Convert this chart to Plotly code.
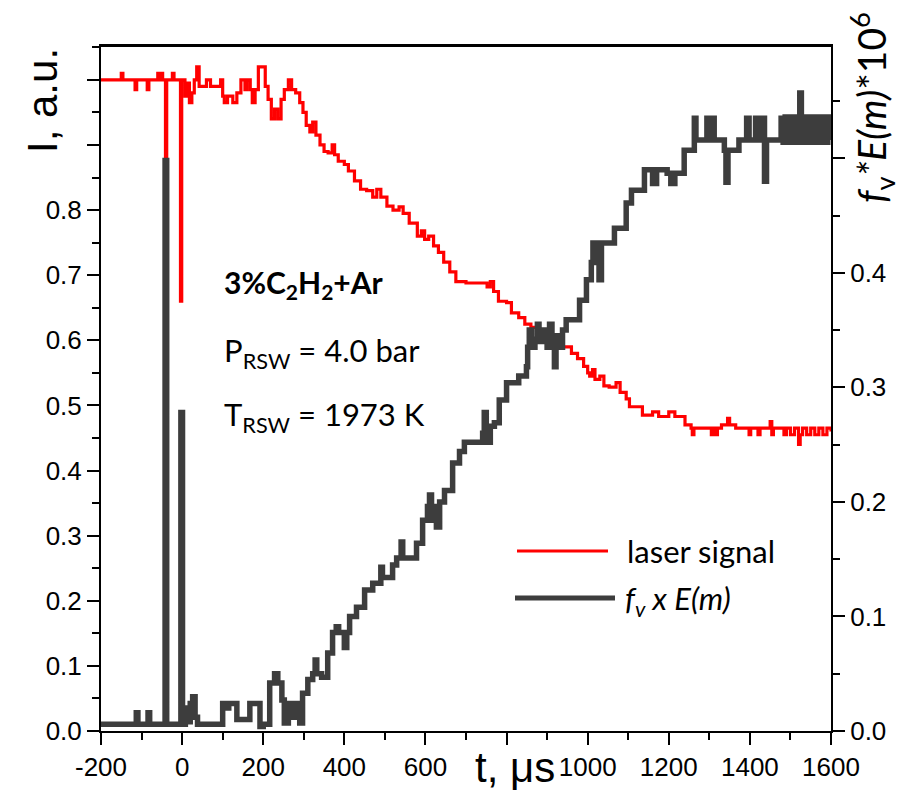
import plotly.graph_objects as go

# ---------------- data ----------------
# laser signal (left axis, I a.u.) -- step data
red_t = [-200, -150, -146, -116, -112, -86, -82, -60, -56, -52, -48, -41, -38, -24, -20, -4, -1,
         7, 13, 18, 24, 30, 36, 42, 60, 70, 95, 100, 104, 112, 125, 135, 145, 155, 160, 168, 173,
         180, 188, 198, 205, 212, 220, 228, 236, 244, 252, 262, 270, 280, 290, 298, 306, 315, 322,
         330, 340, 350, 360, 370, 376, 385, 400, 410, 425, 440, 455, 470, 480, 490, 505, 520, 535,
         545, 560, 580, 590, 598, 608, 620, 632, 645, 660, 675, 700, 720, 752, 760, 768, 780, 800,
         812, 830, 845, 860, 876, 905, 920, 940, 960, 975, 990, 1000, 1005, 1012, 1018, 1030, 1040,
         1053, 1070, 1080, 1095, 1103, 1135, 1160, 1175, 1200, 1215, 1240, 1255, 1258, 1262, 1305,
         1310, 1315, 1320, 1330, 1345, 1350, 1365, 1398, 1402, 1420, 1425, 1450, 1454, 1458, 1484,
         1490, 1500, 1510, 1520, 1524, 1530, 1540, 1550, 1560, 1570, 1580, 1590, 1600]
red_I = [1.00, 1.01, 1.00, 0.985, 1.00, 0.985, 1.00, 1.01, 1.00, 1.01, 1.00, 0.70, 1.00, 1.01, 1.00, 0.66, 1.00,
         0.975, 0.995, 0.965, 0.98, 1.00, 1.02, 0.99, 1.00, 0.99, 1.00, 0.975, 0.965, 0.975, 0.965, 0.98, 1.00, 0.985, 1.00, 0.985, 0.965,
         0.985, 1.02, 1.02, 0.99, 0.97, 0.94, 0.955, 0.94, 0.97, 0.985, 1.00, 0.985, 0.98, 0.965, 0.95, 0.93, 0.92, 0.935,
         0.915, 0.90, 0.89, 0.888, 0.90, 0.885, 0.875, 0.87, 0.86, 0.845, 0.832, 0.83, 0.82, 0.832, 0.82, 0.806, 0.80, 0.805,
         0.795, 0.78, 0.76, 0.768, 0.755, 0.76, 0.745, 0.735, 0.72, 0.705, 0.69, 0.688, 0.688, 0.682, 0.69, 0.675, 0.66, 0.658,
         0.642, 0.635, 0.625, 0.62, 0.61, 0.605, 0.598, 0.59, 0.58, 0.572, 0.56, 0.55, 0.545, 0.555, 0.54, 0.545, 0.53,
         0.528, 0.535, 0.52, 0.51, 0.498, 0.485, 0.49, 0.483, 0.49, 0.483, 0.47, 0.465, 0.455, 0.465, 0.455,
         0.465, 0.455, 0.465, 0.47, 0.48, 0.47, 0.465, 0.455, 0.465, 0.455, 0.465, 0.475, 0.455, 0.465, 0.455,
         0.465, 0.455, 0.465, 0.44, 0.455, 0.465, 0.455, 0.465, 0.455, 0.465, 0.455, 0.465, 0.46]

# f_v x E(m) (right axis, f_v*E(m)*10^6) -- step data
blk_t = [-200, -113, -109, -84, -80, -42, -38, -3, 1, 8, 14, 20, 26, 32, 38, 100, 110, 115, 135, 167,
         192, 200, 216, 228, 236, 246, 252, 262, 270, 280, 290, 297, 310, 322, 328, 332, 344, 359, 371,
         380, 386, 400, 406, 413, 430, 450, 470, 490, 494, 519, 529, 540, 544, 578, 593, 605, 610, 615,
         622, 627, 635, 647, 667, 684, 696, 741, 745, 750, 760, 770, 782, 800, 830, 849, 852, 856, 862,
         870, 876, 880, 890, 900, 906, 912, 918, 922, 930, 938, 947, 980, 997, 1009, 1013, 1018, 1024,
         1028, 1034, 1066, 1095, 1108, 1140, 1160, 1170, 1196, 1205, 1215, 1238, 1263, 1267, 1294, 1300,
         1306, 1312, 1337, 1341, 1346, 1373, 1392, 1398, 1414, 1420, 1433, 1436, 1441, 1477, 1482, 1487,
         1492, 1497, 1502, 1507, 1512, 1517, 1523, 1527, 1532, 1537, 1542, 1547, 1552, 1557, 1562, 1567,
         1572, 1577, 1582, 1587, 1592, 1598]
blk_f = [0.006, 0.016, 0.006, 0.016, 0.006, 0.498, 0.006, 0.278, 0.006, 0.020, 0.008, 0.024, 0.030, 0.012, 0.006, 0.024, 0.020, 0.024, 0.010, 0.024,
         0.004, 0.006, 0.042, 0.050, 0.042, 0.027, 0.007, 0.024, 0.012, 0.024, 0.007, 0.033, 0.045, 0.050, 0.062, 0.050, 0.047, 0.068, 0.086,
         0.091, 0.086, 0.073, 0.086, 0.100, 0.108, 0.123, 0.129, 0.143, 0.134, 0.145, 0.151, 0.165, 0.151, 0.164, 0.184, 0.196, 0.206, 0.184,
         0.196, 0.178, 0.200, 0.210, 0.234, 0.244, 0.252, 0.260, 0.278, 0.252, 0.266, 0.269, 0.289, 0.304, 0.310, 0.318, 0.335, 0.350, 0.335,
         0.342, 0.355, 0.340, 0.350, 0.335, 0.355, 0.340, 0.318, 0.345, 0.335, 0.350, 0.359, 0.376, 0.394, 0.409, 0.426, 0.409, 0.426,
         0.394, 0.426, 0.439, 0.461, 0.472, 0.490, 0.478, 0.490, 0.487, 0.478, 0.487, 0.507, 0.535, 0.516, 0.535, 0.516,
         0.535, 0.516, 0.507, 0.479, 0.507, 0.516, 0.535, 0.516, 0.535, 0.516, 0.535, 0.480, 0.516, 0.535, 0.514, 0.536,
         0.514, 0.536, 0.514, 0.536, 0.514, 0.536, 0.557, 0.514, 0.536, 0.514, 0.536, 0.514, 0.536, 0.514, 0.536, 0.514,
         0.536, 0.514, 0.536, 0.514, 0.536, 0.516]

x_ticks = [-200, 0, 200, 400, 600, 800, 1000, 1200, 1400, 1600]
x_labels = ["-200", "0", "200", "400", "600", "", "1000", "1200", "1400", "1600"]
yl_ticks = [0.0, 0.1, 0.2, 0.3, 0.4, 0.5, 0.6, 0.7, 0.8, 0.9, 1.0]
yl_labels = ["0.0", "0.1", "0.2", "0.3", "0.4", "0.5", "0.6", "0.7", "0.8", "", ""]
yr_ticks = [0.0, 0.1, 0.2, 0.3, 0.4, 0.5]
yr_labels = ["0.0", "0.1", "0.2", "0.3", "0.4", ""]

# ---------------- figure ----------------
# the page body has an 8 px margin, so the figure is drawn 8 px smaller and
# all page-pixel positions are converted to figure coordinates
OFF = 8
W, H = 904 - OFF, 795 - OFF
L, R, T, B = 101 - OFF, 831 - OFF, 46 - OFF, 731 - OFF


def px(x):  # page pixel -> paper fraction
    return (x - OFF - L) / (R - L)


def py(y):
    return (B - (y - OFF)) / (B - T)


fig = go.Figure()
fig.add_trace(go.Scatter(x=red_t, y=red_I, mode="lines", name="laser signal",
                         line=dict(color="#ff0000", width=3.2, shape="hv"),
                         yaxis="y", showlegend=False))
fig.add_trace(go.Scatter(x=blk_t, y=blk_f, mode="lines", name="f_v x E(m)",
                         line=dict(color="#3d3d3d", width=5.5, shape="hv"),
                         yaxis="y2", showlegend=False))

tickfont = dict(family="Liberation Sans, Arial", size=26, color="black")
common = dict(ticks="outside", ticklen=12, tickwidth=2, tickcolor="black",
              showline=True, linewidth=2, linecolor="black", showgrid=False,
              zeroline=False, tickfont=tickfont, tickmode="array", automargin=False)
minor_common = dict(ticklen=7, tickwidth=2, tickcolor="black", ticks="outside", showgrid=False)

fig.update_layout(
    width=W, height=H,
    margin=dict(l=L, r=W - R, t=T, b=H - B, autoexpand=False),
    paper_bgcolor="white", plot_bgcolor="white",
    xaxis=dict(range=[-200, 1600], tickvals=x_ticks, ticktext=x_labels, mirror=True,
               minor=dict(dtick=100, tick0=0, **minor_common), **common),
    yaxis=dict(range=[0, 1.052], tickvals=yl_ticks, ticktext=yl_labels,
               minor=dict(dtick=0.05, tick0=0, **minor_common), **common),
    yaxis2=dict(range=[0, 0.598], tickvals=yr_ticks, ticktext=yr_labels, overlaying="y", side="right",
                minor=dict(dtick=0.05, tick0=0, **minor_common), **common),
)

txt = "Lato, Open Sans, sans-serif"
anns = [
    dict(text="I, a.u.", x=px(43), y=py(100), textangle=-90,
         font=dict(family="Liberation Sans, Arial", size=42, color="black")),
    dict(text="<i>f</i><sub>v</sub><i>*E(m)</i>*10<sup>6</sup>", x=px(872), y=py(108), textangle=-90,
         font=dict(family=txt, size=39, color="black")),
    dict(text="t, \u03bcs", x=px(515), y=py(767),
         font=dict(family="Liberation Sans, Arial", size=42, color="black")),
    dict(text="<b>3%C<sub>2</sub>H<sub>2</sub>+Ar</b>", x=px(222), y=py(284), xanchor="left",
         font=dict(family=txt, size=30, color="black")),
    dict(text="P<sub>RSW</sub> = 4.0 bar", x=px(222), y=py(352), xanchor="left",
         font=dict(family=txt, size=31, color="black")),
    dict(text="T<sub>RSW</sub> = 1973 K", x=px(222), y=py(417), xanchor="left",
         font=dict(family=txt, size=31, color="black")),
    dict(text="laser signal", x=px(625), y=py(551), xanchor="left",
         font=dict(family=txt, size=31, color="black")),
    dict(text="<i>f<sub>v</sub> x E(m)</i>", x=px(623), y=py(600), xanchor="left",
         font=dict(family=txt, size=31, color="black")),
]
for a in anns:
    a.setdefault("xanchor", "center")
    a.setdefault("yanchor", "middle")
    fig.add_annotation(xref="paper", yref="paper", showarrow=False, **a)

fig.add_shape(type="line", xref="paper", yref="paper", x0=0, x1=1, y0=1, y1=1,
              line=dict(color="black", width=2))
fig.add_shape(type="line", xref="paper", yref="paper", x0=px(517), x1=px(608), y0=py(551), y1=py(551),
              line=dict(color="#ff0000", width=3))
fig.add_shape(type="line", xref="paper", yref="paper", x0=px(515), x1=px(615), y0=py(598), y1=py(598),
              line=dict(color="#3d3d3d", width=5))

fig.write_html("out.html")
